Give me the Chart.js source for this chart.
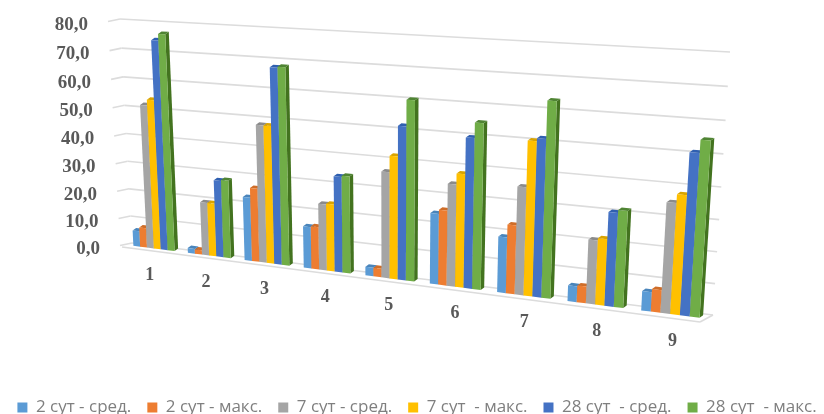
<!DOCTYPE html>
<html>
<head>
<meta charset="utf-8">
<script src="https://cdn.jsdelivr.net/npm/chart.js@4"></script>
<style>
  html, body { margin: 0; background: #fff; }
  canvas { display: block; filter: blur(0.6px); }
</style>
</head>
<body>
<canvas id="chart" width="824" height="414"></canvas>
<script>
const categories = ['1', '2', '3', '4', '5', '6', '7', '8', '9'];
const sut2Avg  = [5.6, 1.7, 21.9, 14.1, 2.9, 23.1, 17.9, 5.0, 6.0];
const sut2Max  = [7.0, 1.5, 25.3, 14.4, 2.9, 24.4, 22.0, 5.3, 7.0];
const sut7Avg  = [50.5, 18.5, 46.8, 22.3, 35.0, 33.0, 34.2, 20.0, 33.6];
const sut7Max  = [52.5, 18.5, 46.8, 22.6, 40.3, 36.5, 48.5, 20.7, 36.2];
const sut28Avg = [72.8, 26.7, 66.0, 32.0, 50.0, 48.0, 49.4, 29.0, 48.7];
const sut28Max = [75.0, 27.0, 66.3, 32.4, 58.4, 52.8, 60.9, 29.9, 52.5];

const COLORS = ['#5b9bd5', '#ed7d31', '#a5a5a5', '#ffc000', '#4472c4', '#70ad47'];
const SIDES  = ['#3f76a8', '#b85f22', '#7c7c7c', '#c29200', '#2f5597', '#43731f'];
const TOPS   = ['#4a85bb', '#cf6d28', '#8a8a8a', '#d9a400', '#2f5fb0', '#4f8433'];

// corners on screen, TL TR BR BL: the plane the bars stand in and the back wall
const BAR_PLANE = [[115, 17], [727, 43], [709, 319], [127, 245]];
const WALL      = [[120, 19], [730, 52], [713, 315], [132, 243]];
const DEPTH_X = 3.5, DEPTH_Y = -2.5;

function makeProjection(q, area) {
    const [[x0, y0], [x1, y1], [x2, y2], [x3, y3]] = q;
    const dx1 = x1 - x2, dx2 = x3 - x2, sx = x0 - x1 + x2 - x3;
    const dy1 = y1 - y2, dy2 = y3 - y2, sy = y0 - y1 + y2 - y3;
    const den = dx1 * dy2 - dx2 * dy1;
    const g = (sx * dy2 - dx2 * sy) / den;
    const h = (dx1 * sy - sx * dy1) / den;
    const a = x1 - x0 + g * x1, b = x3 - x0 + h * x3;
    const d = y1 - y0 + g * y1, e = y3 - y0 + h * y3;
    return (px, py) => {
        const u = (px - area.left) / (area.right - area.left);
        const v = (py - area.top) / (area.bottom - area.top);
        const w = g * u + h * v + 1;
        return [(a * u + b * v + x0) / w, (d * u + e * v + y0) / w];
    };
}

function poly(ctx, pts, color) {
    ctx.fillStyle = color;
    ctx.beginPath();
    pts.forEach((p, i) => i ? ctx.lineTo(p[0], p[1]) : ctx.moveTo(p[0], p[1]));
    ctx.closePath();
    ctx.fill();
}

function segment(ctx, a, b) {
    ctx.beginPath();
    ctx.moveTo(a[0], a[1]);
    ctx.lineTo(b[0], b[1]);
    ctx.stroke();
}

const perspective = {
    id: 'perspective',
    beforeDatasetsDraw(chart) {
        const { ctx, scales: { x, y } } = chart;
        const area = { left: chart.chartArea.left, right: chart.chartArea.right, top: y.getPixelForValue(80), bottom: y.getPixelForValue(0) };
        const onWall = makeProjection(WALL, area);
        const onBars = makeProjection(BAR_PLANE, area);

        ctx.save();
        // gridlines and value labels
        ctx.strokeStyle = '#dcdcdc';
        ctx.lineWidth = 1.6;
        ctx.font = 'bold 19px "Liberation Serif"';
        ctx.textAlign = 'right';
        ctx.textBaseline = 'alphabetic';
        y.ticks.forEach(t => {
            const py = y.getPixelForValue(t.value);
            const l = onWall(area.left, py), r = onWall(area.right, py);
            segment(ctx, l, r);
            segment(ctx, l, [l[0] - 12, l[1] + 2.5]);
            ctx.fillStyle = '#595959';
            ctx.fillText(t.value.toFixed(1).replace('.', ','), l[0] - 32, l[1] + 11);
        });

        // floor edge
        const floorL = [122, 247], floorR = [700, 322];
        segment(ctx, floorL, floorR);
        segment(ctx, floorR, onWall(area.right, area.bottom));

        // bars, left to right so the neighbour covers the side face
        categories.forEach((c, i) => {
            chart.data.datasets.forEach((ds, k) => {
                const bar = chart.getDatasetMeta(k).data[i];
                const xl = bar.x - bar.width / 2, xr = bar.x + bar.width / 2;
                const bl = onBars(xl, bar.base), br = onBars(xr, bar.base);
                const tl = onBars(xl, bar.y), tr = onBars(xr, bar.y);
                const shift = p => [p[0] + DEPTH_X, p[1] + DEPTH_Y];
                poly(ctx, [tr, shift(tr), shift(br), br], SIDES[k]);
                poly(ctx, [tl, shift(tl), shift(tr), tr], TOPS[k]);
                poly(ctx, [tl, tr, br, bl], ds.backgroundColor);
            });
        });

        // category labels hang a fixed distance under the group's base
        ctx.fillStyle = '#595959';
        ctx.font = 'bold 18px "Liberation Serif"';
        ctx.textAlign = 'center';
        ctx.textBaseline = 'middle';
        categories.forEach((c, i) => {
            const p = onBars(x.getPixelForTick(i), y.getPixelForValue(0));
            ctx.fillText(c, p[0] - 4 + i * 0.8, p[1] + 27);
        });
        ctx.restore();
        return false;
    },
};

const seriesValues = [sut2Avg, sut2Max, sut7Avg, sut7Max, sut28Avg, sut28Max];
const seriesLabels = ['2 сут - сред.', '2 сут - макс.', '7 сут - сред.', '7 сут  - макс.', '28 сут  - сред.', '28 сут  - макс.'];

new Chart(document.getElementById('chart'), {
    type: 'bar',
    data: {
        labels: categories,
        datasets: seriesValues.map((data, i) => ({
            label: seriesLabels[i],
            data,
            backgroundColor: COLORS[i],
            categoryPercentage: 0.76,
            barPercentage: 1,
        })),
    },
    options: {
        responsive: false,
        animation: false,
        // negative sides give the one-row legend room; the plot goes through the projection anyway
        layout: { padding: { top: 10, bottom: -12, left: -15, right: -25 } },
        plugins: {
            tooltip: { enabled: false },
            legend: {
                position: 'bottom',
                labels: {
                    boxWidth: 10,
                    boxHeight: 10,
                    padding: 16,
                    color: '#7f7f7f',
                    font: { family: '"Open Sans"', size: 17 },
                },
            },
        },
        scales: {
            x: { ticks: { display: false }, grid: { display: false }, border: { display: false } },
            y: { min: 0, max: 80, ticks: { display: false, stepSize: 10 }, grid: { display: false }, border: { display: false } },
        },
    },
    plugins: [perspective],
});
</script>
</body>
</html>
